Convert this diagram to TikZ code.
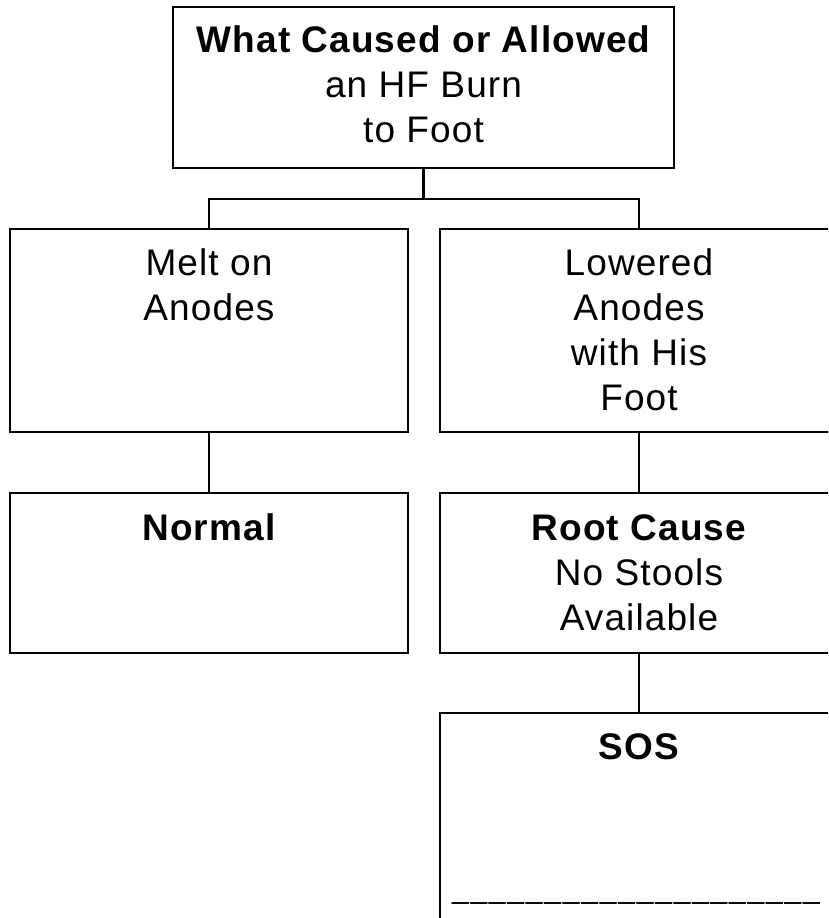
\documentclass[tikz,border=0pt]{standalone}
\usepackage{fontspec}
\setmainfont[LetterSpace=3]{Liberation Sans}
\newfontfamily\ulfont[LetterSpace=6]{Liberation Sans}
\begin{document}
\begin{tikzpicture}[x=1pt,y=-1pt,
  box/.style={draw, line width=2.8pt, inner sep=0pt, outer sep=0pt, anchor=north west},
  lbl/.style={anchor=base, align=center, inner sep=0pt, font=\fontsize{37}{45}\selectfont},
  link/.style={line width=2.4pt}]
\path[use as bounding box, clip] (0,0) rectangle (828,918);
\fill[white] (0,0) rectangle (828,918);
% boxes
\node[box, minimum width=501pt, minimum height=161pt] (top) at (173,7) {};
\node[box, minimum width=398pt, minimum height=203pt] (melt) at (10,229) {};
\node[box, minimum width=398pt, minimum height=203pt] (lower) at (440,229) {};
\node[box, minimum width=398pt, minimum height=160pt] (normal) at (10,493) {};
\node[box, minimum width=398pt, minimum height=160pt] (root) at (440,493) {};
\node[box, minimum width=398pt, minimum height=300pt] (sos) at (440,713) {};
% labels (base anchor = baseline of last line)
\node[lbl] (toptext) at (423.5,142) {{\bfseries What Caused or Allowed}\\an HF Burn\\to Foot};
\node[lbl] (melttext) at (209,320) {Melt on\\Anodes};
\node[lbl] (lowertext) at (639,410) {Lowered\\Anodes\\with His\\Foot};
\node[lbl] (normaltext) at (209,540) {\bfseries Normal};
\node[lbl] (roottext) at (639,630) {{\bfseries Root Cause}\\No Stools\\Available};
\node[lbl] (sostext) at (639,759) {\bfseries SOS};
\node[lbl, font=\ulfont\fontsize{30}{36}\selectfont] (sosline) at (636,898) {\textunderscore\textunderscore\textunderscore\textunderscore\textunderscore\textunderscore\textunderscore\textunderscore\textunderscore\textunderscore\textunderscore\textunderscore\textunderscore\textunderscore\textunderscore\textunderscore\textunderscore\textunderscore\textunderscore\textunderscore};
% connectors
\coordinate (j) at (423.5,199);
\draw[link] (top.south) -- (j);
\draw[link] (melt.north) -- (melt.north |- j) -- (lower.north |- j) -- (lower.north);
\draw[link] (melt.south) -- (normal.north);
\draw[link] (lower.south) -- (root.north);
\draw[link] (root.south) -- (sos.north);
\end{tikzpicture}
\end{document}
